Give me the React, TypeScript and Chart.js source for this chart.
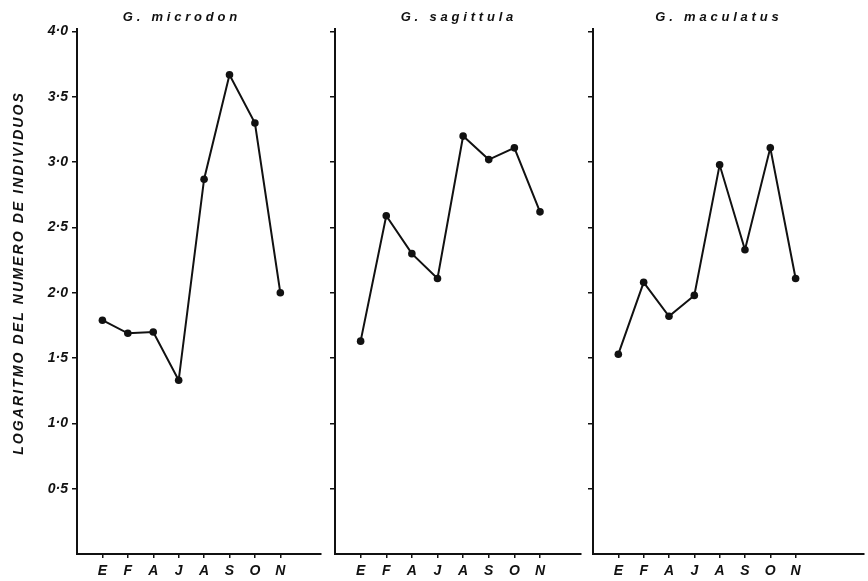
import React, { useEffect, useRef } from 'react';
import { Chart, registerables } from 'chart.js';

Chart.register(...registerables);

// ---- data ----
const months = ['E', 'F', 'A', 'J', 'A', 'S', 'O', 'N'];
const microdon = [1.79, 1.69, 1.7, 1.33, 2.87, 3.67, 3.3, 2.0];
const sagittula = [1.63, 2.59, 2.3, 2.11, 3.2, 3.02, 3.11, 2.62];
const maculatus = [1.53, 2.08, 1.82, 1.98, 2.98, 2.33, 3.11, 2.11];
const yTickValues = [0.5, 1.0, 1.5, 2.0, 2.5, 3.0, 3.5, 4.0];
const panelTitles = ['G. microdon', 'G. sagittula', 'G. maculatus'];
const yAxisTitle = 'LOGARITMO DEL NUMERO DE INDIVIDUOS';

const INK = '#111';
const FAMILY = '"Liberation Sans", Arial, sans-serif';

const spacedTextPlugin = {
  id: 'spacedText',
  afterDraw(chart: any, _args: any, opts: any) {
    const ctx = chart.ctx as CanvasRenderingContext2D;
    ctx.save();
    ctx.fillStyle = INK;
    ctx.textBaseline = 'alphabetic';
    ctx.textAlign = 'center';
    (ctx as any).letterSpacing = opts.titleSpacing + 'px';
    ctx.font = `italic bold ${opts.titleSize}px ${FAMILY}`;
    ctx.fillText(opts.title, opts.titleX + opts.titleSpacing / 2, opts.titleY);
    if (opts.yTitle) {
      ctx.translate(opts.yTitleX, opts.yTitleY);
      ctx.rotate(-Math.PI / 2);
      (ctx as any).letterSpacing = opts.yTitleSpacing + 'px';
      ctx.font = `italic bold ${opts.yTitleSize}px ${FAMILY}`;
      ctx.fillText(opts.yTitle, opts.yTitleSpacing / 2, 0);
    }
    ctx.restore();
  },
};

type PanelSpec = {
  left: number;
  width: number;
  yAxisWidth: number;
  padRight: number;
  xMax: number;
  values: number[];
  title: string;
  titleX: number;
  showYLabels: boolean;
};

const panels: PanelSpec[] = [
  { left: 0, width: 325, yAxisWidth: 77, padRight: 2, xMax: 8.6, values: microdon, title: panelTitles[0], titleX: 180, showYLabels: true },
  { left: 325, width: 260, yAxisWidth: 10, padRight: 3, xMax: 8.6, values: sagittula, title: panelTitles[1], titleX: 132, showYLabels: false },
  { left: 585, width: 283, yAxisWidth: 8, padRight: 0, xMax: 9.7, values: maculatus, title: panelTitles[2], titleX: 132, showYLabels: false },
];

const HEIGHT = 581;

function Panel({ spec }: { spec: PanelSpec }) {
  const ref = useRef<HTMLCanvasElement | null>(null);
  useEffect(() => {
    if (!ref.current) return;
    const tickFont = { family: FAMILY, size: 14, weight: 'bold' as const, style: 'italic' as const };
    const chart = new Chart(ref.current, {
      type: 'line',
      data: {
        datasets: [
          {
            data: spec.values.map((y, i) => ({ x: i, y })),
            borderColor: INK,
            borderWidth: 2,
            pointRadius: 3.8,
            pointBackgroundColor: INK,
            pointBorderWidth: 0,
            tension: 0,
          },
        ],
      },
      plugins: [spacedTextPlugin],
      options: {
        animation: false,
        responsive: false,
        devicePixelRatio: 1,
        layout: { padding: { top: 29, right: spec.padRight, left: 0, bottom: 0 } },
        plugins: {
          legend: { display: false },
          tooltip: { enabled: false },
          title: { display: false },
          spacedText: {
            title: spec.title,
            titleX: spec.titleX,
            titleY: 21,
            titleSize: 13,
            titleSpacing: 3.8,
            yTitle: spec.showYLabels ? yAxisTitle : '',
            yTitleX: 23,
            yTitleY: 274,
            yTitleSize: 14,
            yTitleSpacing: 2.1,
          },
        } as any,
        scales: {
          x: {
            type: 'linear',
            min: -1,
            max: spec.xMax,
            afterBuildTicks: (axis: any) => {
              axis.ticks = months.map((_, i) => ({ value: i }));
            },
            afterFit: (axis: any) => {
              axis.height = 27;
            },
            ticks: {
              callback: (v: any) => months[v as number] ?? '',
              font: tickFont,
              color: INK,
              padding: 5,
              maxRotation: 0,
              autoSkip: false,
            },
            grid: { drawOnChartArea: false, drawTicks: true, tickLength: 4, color: INK, lineWidth: 1.5 },
            border: { display: true, color: INK, width: 2 },
          },
          y: {
            type: 'linear',
            min: 0,
            max: 4.02,
            afterBuildTicks: (axis: any) => {
              axis.ticks = yTickValues.map((value) => ({ value }));
            },
            afterFit: (axis: any) => {
              axis.width = spec.yAxisWidth;
            },
            ticks: {
              display: spec.showYLabels,
              callback: (v: any) => Number(v).toFixed(1).replace('.', '·'),
              font: tickFont,
              color: INK,
              padding: 4,
            },
            grid: { drawOnChartArea: false, drawTicks: true, tickLength: 5, color: INK, lineWidth: 1.5 },
            border: { display: true, color: INK, width: 2 },
          },
        },
      } as any,
    });
    return () => chart.destroy();
  }, [spec]);
  return (
    <canvas
      ref={ref}
      width={spec.width}
      height={HEIGHT}
      style={{ position: 'absolute', left: spec.left, top: 0, width: spec.width, height: HEIGHT }}
    />
  );
}

export default function App() {
  return (
    <div style={{ position: 'fixed', left: 0, top: 0, width: 868, height: HEIGHT, background: '#fff', overflow: 'hidden' }}>
      {panels.map((p, i) => (
        <Panel key={i} spec={p} />
      ))}
    </div>
  );
}
